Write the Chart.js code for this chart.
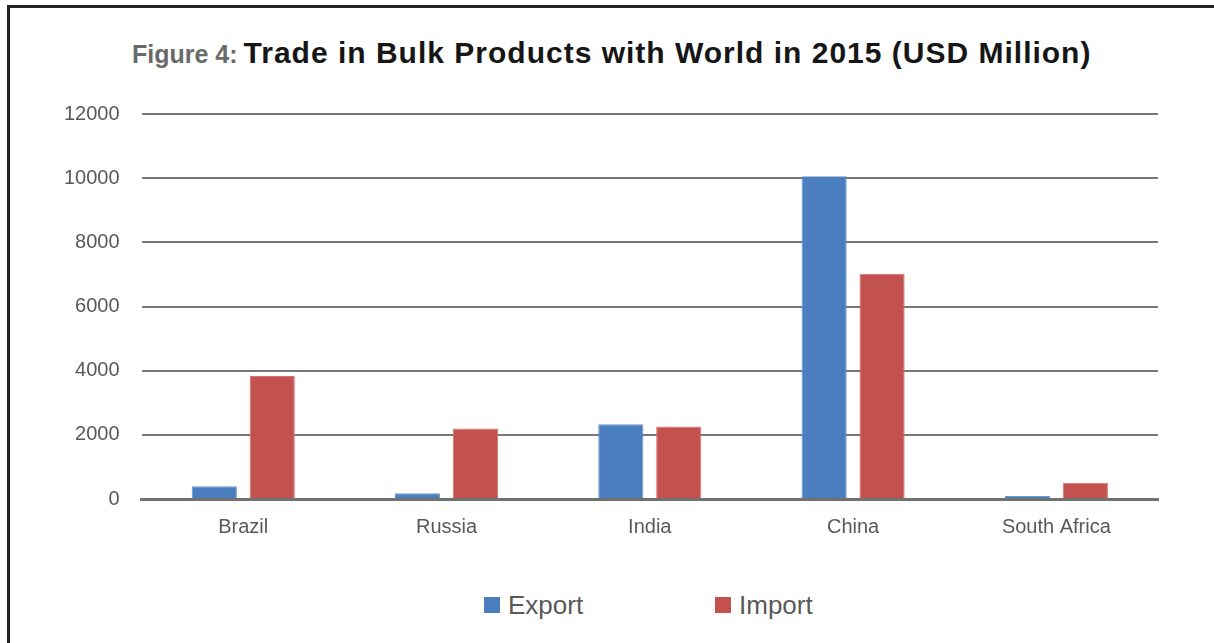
<!DOCTYPE html>
<html>
<head>
<meta charset="utf-8">
<script src="https://cdn.jsdelivr.net/npm/chart.js@4.4.1/dist/chart.umd.min.js"></script>
<style>
  html, body { margin: 0; padding: 0; background: #fff; }
  body { width: 1214px; height: 643px; position: relative; overflow: hidden; font-family: "Liberation Sans", Arial, sans-serif; }
  .frame { position: absolute; left: 7px; top: 5px; width: 1300px; height: 700px; border-left: 3px solid #222; border-top: 3px solid #222; }
  .title { position: absolute; left: 132px; top: 36px; white-space: nowrap; font-weight: bold; line-height: 34px; }
  .title .fig { color: #6a6a6a; font-size: 25px; }
  .title .main { color: #161616; font-size: 30px; letter-spacing: 1px; margin-left: 6px; }
  .chart-box { position: absolute; left: 0; top: 80px; width: 1214px; height: 471px; }
  .legend-item { position: absolute; top: 590px; height: 30px; display: flex; align-items: center; color: #595959; font-size: 26px; }
  .legend-item span.box { display: inline-block; width: 16px; height: 16px; margin-right: 8px; }
</style>
</head>
<body>
<div class="frame"></div>
<div class="title"><span class="fig">Figure 4:</span><span class="main">Trade in Bulk Products with World in 2015 (USD Million)</span></div>
<div class="chart-box"><canvas id="barChart"></canvas></div>
<div class="legend-item" style="left:484px"><span class="box" style="background:#4a7ebf"></span>Export</div>
<div class="legend-item" style="left:715px"><span class="box" style="background:#c3524f"></span>Import</div>

<script>
// 資料
var countries = ['Brazil', 'Russia', 'India', 'China', 'South Africa'];
var exportValues = [400, 180, 2330, 10060, 90];
var importValues = [3830, 2200, 2260, 7020, 510];
var yTicks = [0, 2000, 4000, 6000, 8000, 10000, 12000];

var ctx = document.getElementById('barChart');

barChart = new Chart(ctx, {
  type: 'bar',
  data: {
    labels: countries,
    datasets: [
      {
        label: 'Export',
        data: exportValues,
        backgroundColor: '#4a7ebf',
        borderColor: '#6b97cf',
        borderWidth: 1,
      },
      {
        label: 'Import',
        data: importValues,
        backgroundColor: '#c3524f',
        borderColor: '#d27572',
        borderWidth: 1,
      },
    ],
  },
  options: {
    responsive: true,
    maintainAspectRatio: false,
    animation: false,
    layout: {
      padding: { left: 42, right: 56, top: 6, bottom: 4 },
    },
    datasets: {
      bar: {
        categoryPercentage: 0.57,
        barPercentage: 0.78,
      },
    },
    plugins: {
      legend: { display: false },
      tooltip: { enabled: false },
    },
    scales: {
      x: {
        grid: { display: false },
        border: { color: '#717171', width: 3 },
        ticks: {
          color: '#595959',
          padding: 8,
          font: { family: 'Liberation Sans', size: 20 },
        },
      },
      y: {
        min: 0,
        max: 12000,
        afterBuildTicks: function (axis) {
          axis.ticks = yTicks.map(function (v) { return { value: v }; });
        },
        border: { display: false },
        grid: { color: '#787878', lineWidth: 2, drawTicks: false },
        ticks: {
          color: '#595959',
          padding: 22,
          font: { family: 'Liberation Sans', size: 20 },
          callback: function (value) { return String(value); },
        },
      },
    },
  },
});
</script>
</body>
</html>
